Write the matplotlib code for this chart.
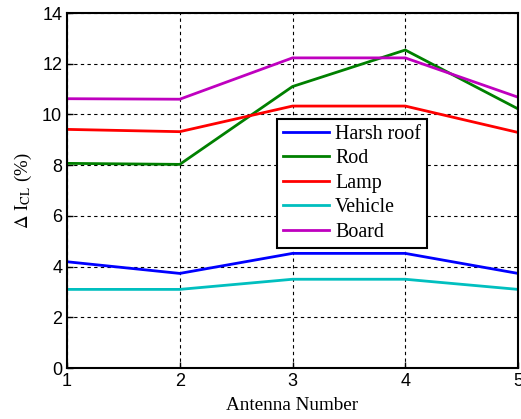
import matplotlib
matplotlib.use("Agg")
import matplotlib.pyplot as plt

plt.rcParams["mathtext.fontset"] = "stix"

antenna = [1, 2, 3, 4, 5]
harsh_roof = [4.19, 3.73, 4.52, 4.52, 3.73]
rod = [8.07, 8.03, 11.1, 12.54, 10.22]
lamp = [9.41, 9.32, 10.33, 10.33, 9.29]
vehicle = [3.1, 3.1, 3.5, 3.5, 3.1]
board = [10.62, 10.6, 12.23, 12.23, 10.68]

series = [
    ("Harsh roof", harsh_roof, "#0000ff"),
    ("Rod", rod, "#008000"),
    ("Lamp", lamp, "#ff0000"),
    ("Vehicle", vehicle, "#00bfbf"),
    ("Board", board, "#bf00bf"),
]

fig = plt.figure(figsize=(5.21, 4.19), dpi=100)
ax = fig.add_axes([67 / 521, 1 - 368 / 419, 451 / 521, 355 / 419])

for name, values, color in series:
    ax.plot(antenna, values, color=color, linewidth=2, label=name)

ax.set_xlim(1, 5)
ax.set_ylim(0, 14)
ax.set_xticks(antenna)
ax.set_yticks(range(0, 15, 2))
ax.tick_params(direction="in", labelsize=13, length=4, width=1)
for lab in ax.get_xticklabels() + ax.get_yticklabels():
    lab.set_family("Liberation Sans")

ax.grid(True, color="black", linestyle=(0, (3, 3)), linewidth=0.8)
for spine in ax.spines.values():
    spine.set_linewidth(1.5)

ax.set_xlabel("Antenna Number", family="Liberation Serif", fontsize=13.8, labelpad=5)
ax.set_ylabel(r"$\Delta$ I$_{\rm CL}$ (%)", family="Liberation Serif", fontsize=13.5, labelpad=6)

leg = ax.legend(loc="lower left", bbox_to_anchor=(0.466, 0.338),
                prop={"family": "Liberation Serif", "size": 14.4},
                fancybox=False, framealpha=1, edgecolor="black",
                borderpad=0.3, labelspacing=0.28, handlelength=2.3,
                handletextpad=0.3, borderaxespad=0)
leg.get_frame().set_linewidth(1.5)

fig.savefig("out.png", dpi=100)
